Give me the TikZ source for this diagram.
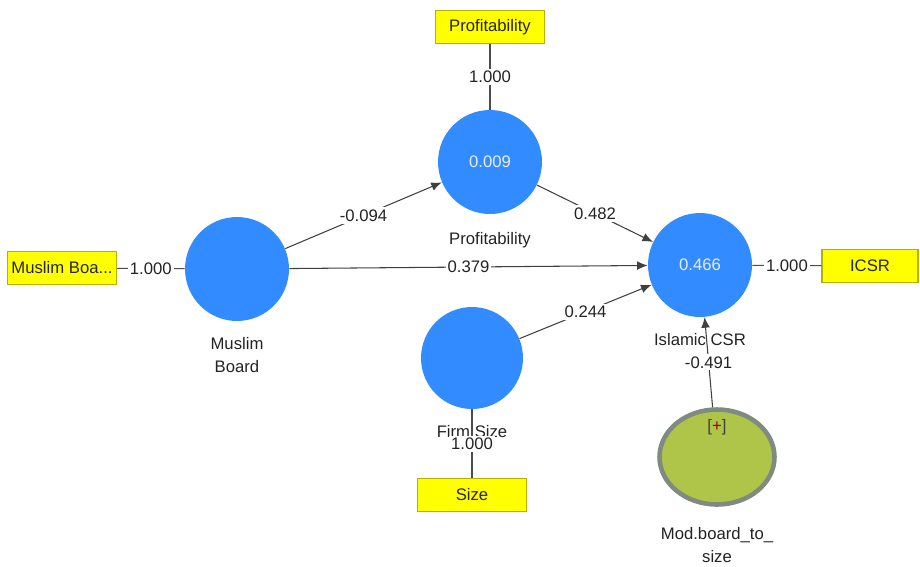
\documentclass[tikz,border=0pt]{standalone}
\usepackage{fontspec}
\setmainfont{Liberation Sans}
\usetikzlibrary{positioning,shapes,arrows.meta}

\definecolor{lvblue}{RGB}{51,140,255}
\definecolor{indyellow}{RGB}{255,255,0}
\definecolor{indborder}{RGB}{185,175,0}
\definecolor{modgreen}{RGB}{174,197,74}
\definecolor{modgray}{RGB}{128,138,128}
\definecolor{txtgray}{RGB}{35,35,35}

\tikzset{
    latent/.style={circle, fill=lvblue, minimum size=2.08cm, inner sep=0pt, text=white!92!blue},
    moderator/.style={ellipse, fill=modgreen, draw=modgray, line width=2.6pt, minimum width=2.3cm, minimum height=1.9cm},
    indbox/.style={rectangle, fill=indyellow, draw=indborder, line width=0.6pt, minimum width=2.18cm, minimum height=0.66cm, inner sep=1pt, text=black!85},
    lvname/.style={align=center, text=txtgray, inner sep=0pt},
    coef/.style={fill=white, inner sep=1.2pt, text=txtgray},
    loading/.style={draw=black!70, line width=0.6pt},
    structural/.style={draw=black!75, line width=0.6pt, -{Latex[length=6pt,width=5pt]}}
}

\begin{document}
\begin{tikzpicture}[x=0.02cm, y=-0.02cm, font=\fontsize{9.5}{13.6}\selectfont]
    \useasboundingbox (0,0) rectangle (920,566);

    % Latent variables
    \node[latent] (mb) at (237,269) {};
    \node[latent] (prof) at (490,162) {0.009};
    \node[latent] (icsr) at (700,265) {0.466};
    \node[latent, minimum size=2.04cm] (fsize) at (472,358) {};
    \node[moderator] (mod) at (717,457) {};
    \node[text=black!75] (modplus) at (717,427) {[{\color{red!60!black}+}]};

    % Latent variable names
    \node[lvname] (mbname) at (237,355) {Muslim\\Board};
    \node[lvname] (profname) at (490,240) {Profitability};
    \node[lvname] (icsrname) at (700,340) {Islamic CSR};
    \node[lvname] (fsizename) at (472,432) {Firm Size};
    \node[lvname] (modname) at (717,545) {Mod.board\_to\_\\size};

    % Indicators
    \node[indbox] (mbind) at (62,268) {Muslim Boa...};
    \node[indbox] (profind) at (490,27) {Profitability};
    \node[indbox, minimum width=1.92cm] (icsrind) at (870,266) {ICSR};
    \node[indbox] (sizeind) at (472,495) {Size};

    % Outer loadings
    \foreach \a/\b in {mbind/mb, profind/prof, icsr/icsrind, fsize/sizeind} {
        \draw[loading] (\a) -- node[coef] {1.000} (\b);
    }

    % Path coefficients
    \draw[structural] (mb) -- node[coef] {-0.094} (prof);
    \draw[structural] (prof) -- node[coef] {0.482} (icsr);
    \draw[structural] (mb) -- node[coef] {0.379} (icsr);
    \draw[structural] (fsize) -- node[coef] {0.244} (icsr);
    \draw[structural] (mod) -- node[coef] {-0.491} (icsr);
\end{tikzpicture}
\end{document}
